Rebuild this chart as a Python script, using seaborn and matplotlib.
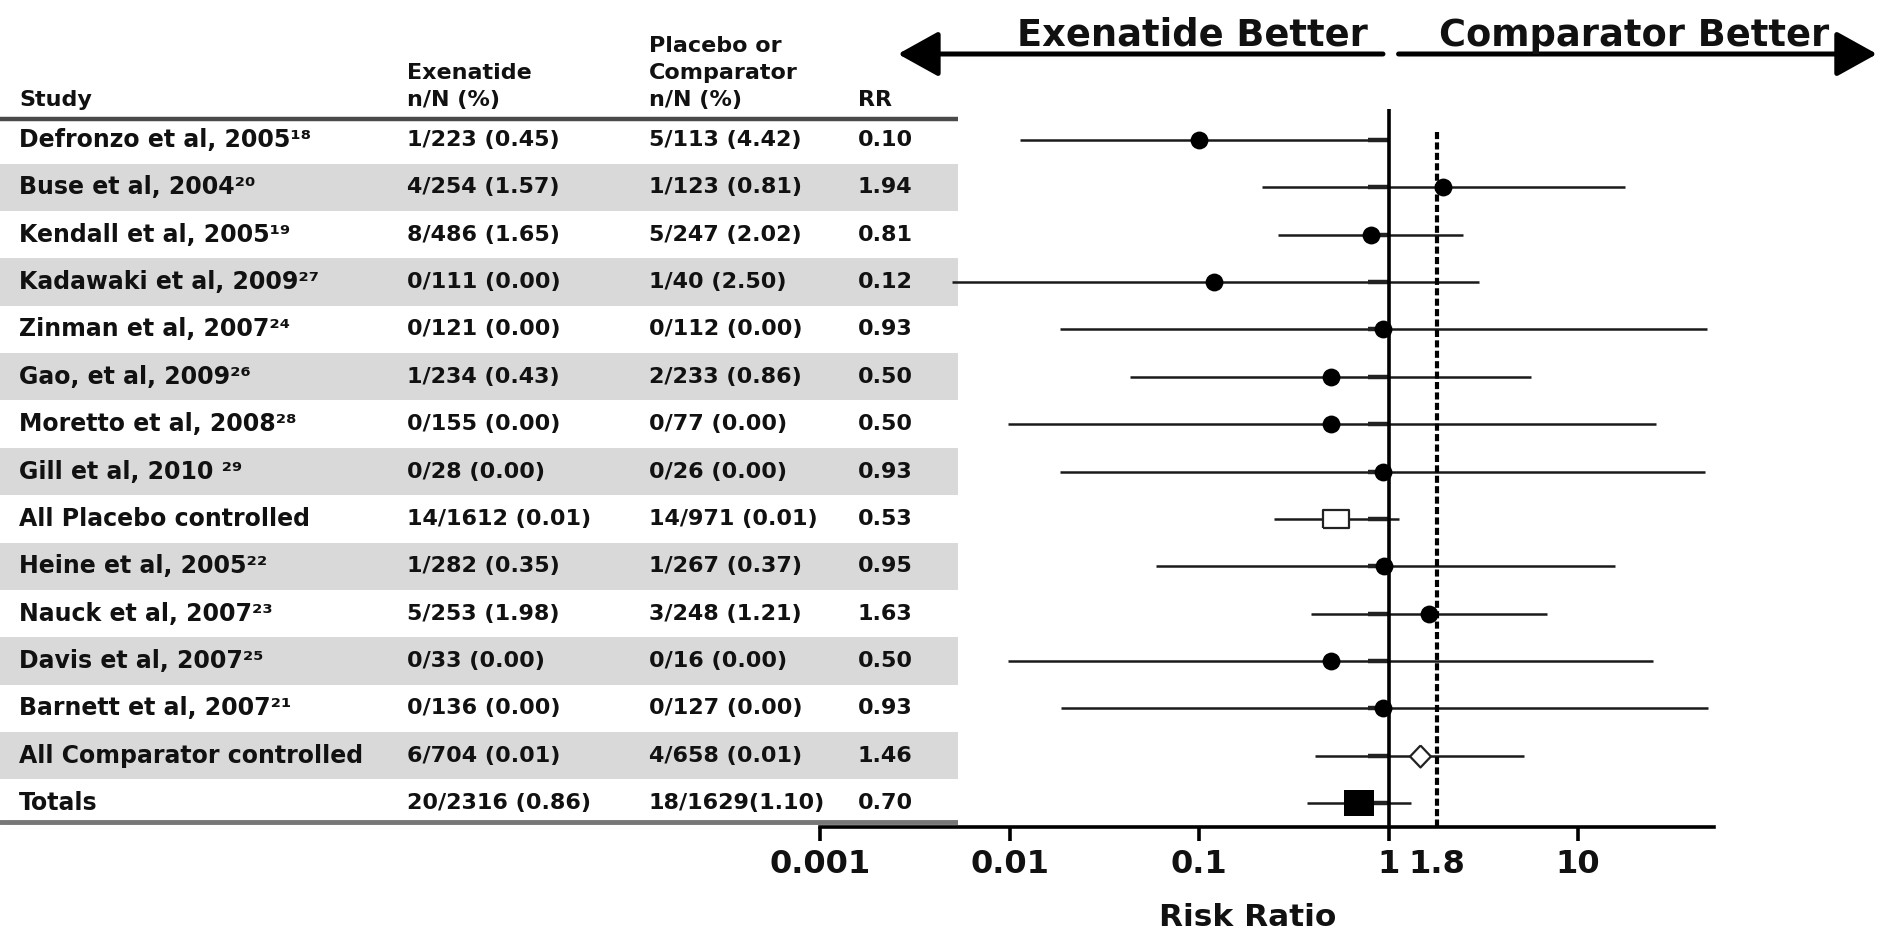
import numpy as np
import pandas as pd
import matplotlib
matplotlib.use("Agg")
import matplotlib.pyplot as plt
import seaborn as sns
from matplotlib.ticker import FixedLocator, FixedFormatter

# ---------------- data ----------------
studies = ["Defronzo et al, 2005¹⁸", "Buse et al, 2004²⁰", "Kendall et al, 2005¹⁹",
           "Kadawaki et al, 2009²⁷", "Zinman et al, 2007²⁴", "Gao, et al, 2009²⁶",
           "Moretto et al, 2008²⁸", "Gill et al, 2010 ²⁹", "All Placebo controlled",
           "Heine et al, 2005²²", "Nauck et al, 2007²³", "Davis et al, 2007²⁵",
           "Barnett et al, 2007²¹", "All Comparator controlled", "Totals"]
exenatide = ["1/223 (0.45)", "4/254 (1.57)", "8/486 (1.65)", "0/111 (0.00)", "0/121 (0.00)",
             "1/234 (0.43)", "0/155 (0.00)", "0/28 (0.00)", "14/1612 (0.01)", "1/282 (0.35)",
             "5/253 (1.98)", "0/33 (0.00)", "0/136 (0.00)", "6/704 (0.01)", "20/2316 (0.86)"]
comparator = ["5/113 (4.42)", "1/123 (0.81)", "5/247 (2.02)", "1/40 (2.50)", "0/112 (0.00)",
              "2/233 (0.86)", "0/77 (0.00)", "0/26 (0.00)", "14/971 (0.01)", "1/267 (0.37)",
              "3/248 (1.21)", "0/16 (0.00)", "0/127 (0.00)", "4/658 (0.01)", "18/1629(1.10)"]
rr = [0.10, 1.94, 0.81, 0.12, 0.93, 0.50, 0.50, 0.93, 0.53, 0.95, 1.63, 0.50, 0.93, 1.46, 0.70]
ci_low = [0.0114, 0.215, 0.26, 0.0050, 0.0185, 0.043, 0.0098, 0.0185, 0.25, 0.059,
          0.39, 0.0098, 0.0188, 0.41, 0.37]
ci_high = [1.0, 17.6, 2.48, 3.0, 47.9, 5.63, 25.7, 46.9, 1.13, 15.7,
           6.84, 25.0, 48.5, 5.2, 1.32]
kind = ["study"] * 8 + ["placebo_pool"] + ["study"] * 4 + ["comparator_pool", "total"]
header_study = "Study"
header_exen = "Exenatide\nn/N (%)"
header_comp = "Placebo or\nComparator\nn/N (%)"
header_rr = "RR"
tick_vals = [0.001, 0.01, 0.1, 1, 10]
tick_labels = ["0.001", "0.01", "0.1", "1", "10"]
ref_val = 1.8

df = pd.DataFrame({"study": studies, "exen": exenatide, "comp": comparator, "rr": rr,
                   "lo": ci_low, "hi": ci_high, "kind": kind})
df["row"] = np.arange(len(df))

# ---------------- style ----------------
sns.set_theme(style="white")
plt.rcParams["font.family"] = ["DejaVu Sans"]
plt.rcParams["font.weight"] = "bold"
plt.rcParams["axes.labelweight"] = "bold"

W, H = 1879, 930
fig = plt.figure(figsize=(W / 100, H / 100), dpi=100)

ROW0, ROWH = 140.0, 47.36
ylim = ((H - ROW0) / ROWH, -ROW0 / ROWH)
TXT = "#111111"
FS = 16
FS_STUDY = 17

# ---------------- table ----------------
tab_w = 958
tax = fig.add_axes([0, 0, tab_w / W, 1])
tax.set_xlim(0, tab_w)
tax.set_ylim(*ylim)
tax.axis("off")
for r in df["row"]:
    if r % 2 == 1:
        tax.axhspan(r - 0.5, r + 0.5, color="#d9d9d9", lw=0, zorder=0)

col_x = {"study": 19, "exen": 407, "comp": 649, "rr": 858}
for _, d in df.iterrows():
    tax.text(col_x["study"], d.row, d.study, ha="left", va="center", fontsize=FS_STUDY, color=TXT)
    tax.text(col_x["exen"], d.row, d.exen, ha="left", va="center", fontsize=FS, color=TXT)
    tax.text(col_x["comp"], d.row, d.comp, ha="left", va="center", fontsize=FS, color=TXT)
    tax.text(col_x["rr"], d.row, f"{d.rr:.2f}", ha="left", va="center", fontsize=FS, color=TXT)

hdr_y = -0.845
line_sp = 0.57
tax.text(col_x["study"], hdr_y, header_study, ha="left", va="center", fontsize=FS, color=TXT)
for k, ln in enumerate(reversed(header_exen.split("\n"))):
    tax.text(col_x["exen"], hdr_y - k * line_sp, ln, ha="left", va="center", fontsize=FS, color=TXT)
for k, ln in enumerate(reversed(header_comp.split("\n"))):
    tax.text(col_x["comp"], hdr_y - k * line_sp, ln, ha="left", va="center", fontsize=FS, color=TXT)
tax.text(col_x["rr"], hdr_y, header_rr, ha="left", va="center", fontsize=FS, color=TXT)
tax.axhline(-0.443, color="#4a4a4a", lw=3.2)
tax.axhline(14.40, color="#777777", lw=3.5)

# ---------------- forest plot ----------------
x_left, x_right = 820, 1714
fax = fig.add_axes([x_left / W, 0, (x_right - x_left) / W, 1])
fax.patch.set_visible(False)
fax.set_xscale("log")
dec = 189.5
fax.set_xlim(0.001, 10 ** (-3 + (x_right - x_left) / dec))
fax.set_ylim(*ylim)
for s in ["top", "left", "right"]:
    fax.spines[s].set_visible(False)
fax.spines["bottom"].set_position(("data", 14.5))
fax.spines["bottom"].set_linewidth(2.6)
fax.spines["bottom"].set_color("black")
fax.set_yticks([])

fax.xaxis.set_major_locator(FixedLocator(tick_vals))
fax.xaxis.set_major_formatter(FixedFormatter(tick_labels))
fax.xaxis.set_minor_locator(FixedLocator([ref_val]))
fax.xaxis.set_minor_formatter(FixedFormatter([f"{ref_val:g}"]))
fax.tick_params(axis="x", which="major", direction="out", length=10, width=2.6,
                labelsize=23, pad=6, color="black", labelcolor=TXT, bottom=True)
fax.tick_params(axis="x", which="minor", direction="out", length=0, width=0,
                labelsize=23, pad=16, labelcolor=TXT, bottom=True)

# reference lines
fax.vlines(1, -0.65, 14.5, color="black", lw=2.6, zorder=3)
fax.vlines(ref_val, -0.17, 14.5, color="black", lw=3.0, linestyles=(0, (1.7, 0.8)), zorder=3)

# confidence intervals
fax.hlines(df["row"], df["lo"], df["hi"], color="#1a1a1a", lw=1.8, zorder=2)
fax.hlines(df["row"], 0.78, 1.0, color="#222222", lw=3.2, zorder=2)

# point estimates
rect_open = [(-1.4, -1), (1.4, -1), (1.4, 1), (-1.4, 1), (-1.4, -1)]
rect_full = [(-1.1, -1), (1.1, -1), (1.1, 1), (-1.1, 1), (-1.1, -1)]
diamond = [(0, 1), (0.95, 0), (0, -1), (-0.95, 0), (0, 1)]
sub = df[df.kind == "study"]
sns.scatterplot(data=sub, x="rr", y="row", ax=fax, marker="o", s=165, color="black",
                edgecolor="black", linewidth=0, zorder=5, legend=False)
sub = df[df.kind == "placebo_pool"]
sns.scatterplot(data=sub, x="rr", y="row", ax=fax, marker=rect_open, s=360, facecolor="white",
                edgecolor="#222222", linewidth=1.6, zorder=5, legend=False)
sub = df[df.kind == "comparator_pool"]
sns.scatterplot(data=sub, x="rr", y="row", ax=fax, marker=diamond, s=250, facecolor="white",
                edgecolor="#222222", linewidth=1.6, zorder=5, legend=False)
sub = df[df.kind == "total"]
sns.scatterplot(data=sub, x="rr", y="row", ax=fax, marker=rect_full, s=440, color="black",
                edgecolor="black", linewidth=0, zorder=5, legend=False)

fax.set_ylabel("")
fax.set_xlabel("Risk Ratio", fontsize=22.5, fontweight="bold", color=TXT)
fax.xaxis.set_label_coords((1248 - x_left) / (x_right - x_left), (H - 903) / H)

# direction arrows and titles
arrow_y = 1 - 54 / H
aprops = dict(arrowstyle="-|>,head_length=0.9,head_width=0.5", mutation_scale=28,
              lw=3.6, color="black", shrinkA=0, shrinkB=0)
fax.annotate("", xy=(0.00258, arrow_y), xytext=(0.935, arrow_y),
             xycoords=("data", "figure fraction"), textcoords=("data", "figure fraction"),
             arrowprops=aprops, annotation_clip=False)
fax.annotate("", xy=(378, arrow_y), xytext=(1.13, arrow_y),
             xycoords=("data", "figure fraction"), textcoords=("data", "figure fraction"),
             arrowprops=aprops, annotation_clip=False)
fig.text(1192 / W, 1 - 46 / H, "Exenatide Better", ha="center", va="baseline",
         fontsize=26.5, fontweight="bold", color=TXT)
fig.text(1634 / W, 1 - 46 / H, "Comparator Better", ha="center", va="baseline",
         fontsize=26.5, fontweight="bold", color=TXT)

fig.savefig("out.png", dpi=100, facecolor="white")
